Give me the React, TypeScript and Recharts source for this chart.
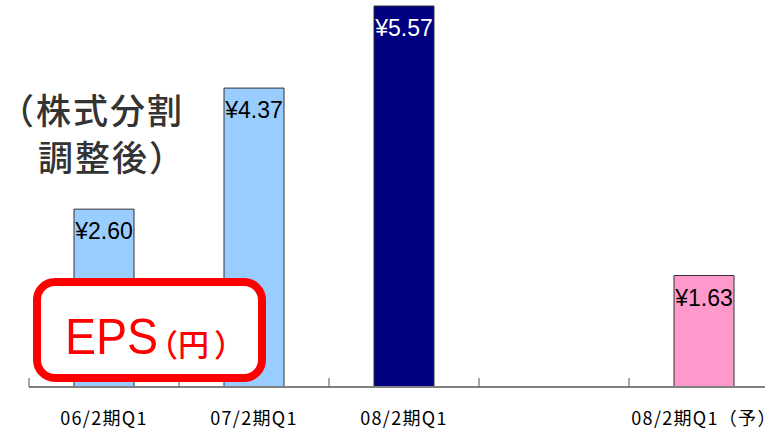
import React from 'react';
import { BarChart, Bar, XAxis, YAxis, Cell, LabelList } from 'recharts';

const categories = ['06/2期Q1', '07/2期Q1', '08/2期Q1', '', '08/2期Q1（予）'];
const epsValues: (number | null)[] = [2.6, 4.37, 5.57, null, 1.63];
const valueLabels = ['¥2.60', '¥4.37', '¥5.57', '', '¥1.63'];
const barColors = ['#99CCFF', '#99CCFF', '#000080', '#99CCFF', '#FF99CC'];
const labelColors = ['#000000', '#000000', '#FFFFFF', '#000000', '#000000'];
const yDomain: [number, number] = [0, 5.57];

const noteLine1 = '（株式分割';
const noteLine2 = '調整後）';
const boxTitle = 'EPS';
const boxUnit = '円';

const data = categories.map((name, i) => ({
  name,
  eps: epsValues[i],
  label: valueLabels[i],
}));

const CategoryTick = (props: any) => {
  const { x, y, payload, width } = props;
  const half = payload && typeof payload.offset === 'number' ? payload.offset : width / categories.length / 2;
  const left = x - half;
  return (
    <g>
      <line x1={left} x2={left} y1={y - 9} y2={y} stroke="#555555" strokeWidth={1} />
      <text
        x={x}
        y={y + 38}
        textAnchor="middle"
        fontFamily="'Noto Sans CJK JP', sans-serif"
        fontSize={18}
        letterSpacing={1.3}
        fill="#000000"
      >
        {payload.value}
      </text>
    </g>
  );
};

const BarValueLabel = (props: any) => {
  const { x, y, width, value, index } = props;
  if (!value) return null;
  return (
    <text
      x={x + width / 2}
      y={y + 30}
      textAnchor="middle"
      fontFamily="'Liberation Sans', Arial, sans-serif"
      fontSize={23}
      fill={labelColors[index]}
    >
      {value}
    </text>
  );
};

export default function App() {
  return (
    <div style={{ position: 'absolute', left: 0, top: 0, width: 765, height: 429, overflow: 'hidden', background: '#ffffff' }}>
      <BarChart
        width={800}
        height={429}
        data={data}
        margin={{ top: 6, right: 21, bottom: 0, left: 29 }}
        barSize={60}
      >
        <XAxis
          dataKey="name"
          interval={0}
          height={42}
          tickLine={false}
          tickSize={0}
          tickMargin={0}
          axisLine={{ stroke: '#808080', strokeWidth: 2 }}
          tick={<CategoryTick />}
        />
        <YAxis hide domain={yDomain} type="number" />
        <Bar dataKey="eps" isAnimationActive={false} stroke="#333333" strokeWidth={1}>
          {data.map((d, i) => (
            <Cell key={i} fill={barColors[i]} />
          ))}
          <LabelList dataKey="label" content={<BarValueLabel />} />
        </Bar>
      </BarChart>
      <svg
        width={765}
        height={429}
        style={{ position: 'absolute', left: 0, top: 0, pointerEvents: 'none' }}
      >
        <g fontFamily="'Noto Sans CJK JP', sans-serif" fontSize={35} fill="#333333" fontWeight={500}>
          <text x={-1} y={124} letterSpacing={2}>{noteLine1}</text>
          <text x={38} y={171} letterSpacing={2}>{noteLine2}</text>
        </g>
        <rect x={37} y={282} width={225} height={96} rx={18} ry={18} fill="#ffffff" stroke="#FF0000" strokeWidth={8} />
        <text
          x={65}
          y={354}
          fontFamily="'Liberation Sans', Arial, sans-serif"
          fontSize={50}
          textLength={93}
          lengthAdjust="spacingAndGlyphs"
          fill="#FF0000"
        >
          {boxTitle}
        </text>
        <text x={147} y={356} fontFamily="'Noto Sans CJK JP', sans-serif" fontSize={31} fill="#FF0000" fontWeight={500}>
          （{boxUnit}<tspan dx={5}>）</tspan>
        </text>
      </svg>
    </div>
  );
}
